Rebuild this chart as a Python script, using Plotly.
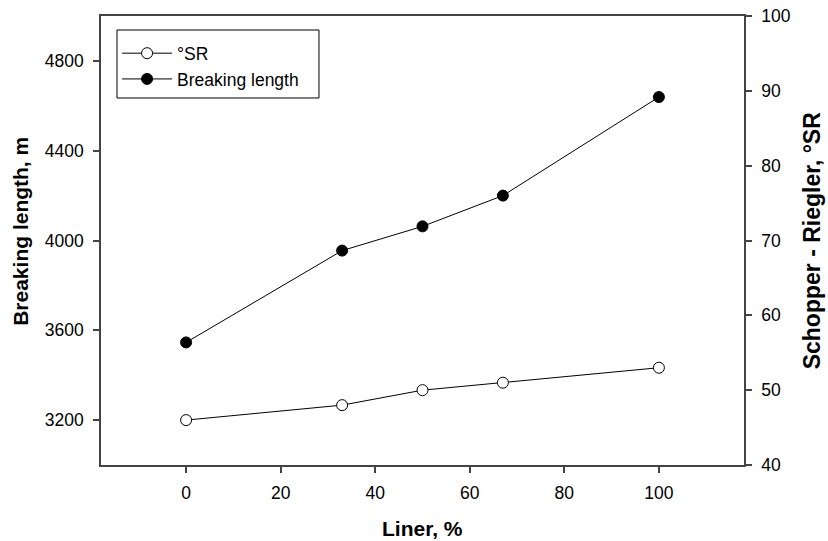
import plotly.graph_objects as go

liner = [0, 33, 50, 67, 100]
breaking_length = [3546, 3955, 4063, 4200, 4639]
sr = [46, 48, 50, 51, 53]

x_ticks = [0, 20, 40, 60, 80, 100]
y_ticks = [3200, 3600, 4000, 4400, 4800]
y2_ticks = [40, 50, 60, 70, 80, 90, 100]

FONT = "Liberation Sans, Arial, sans-serif"
AX = "#444444"
TICK = 17.5
TITLE = 21

fig = go.Figure()
fig.add_trace(go.Scatter(
    x=liner, y=sr, name="°SR", yaxis="y2", mode="lines+markers",
    line=dict(color="black", width=1),
    marker=dict(symbol="circle", size=11, color="white", line=dict(color="black", width=1)),
))
fig.add_trace(go.Scatter(
    x=liner, y=breaking_length, name="Breaking length", yaxis="y", mode="lines+markers",
    line=dict(color="black", width=1),
    marker=dict(symbol="circle", size=11, color="black", line=dict(color="black", width=1)),
))

axis_common = dict(ticks="outside", ticklen=6, tickcolor=AX, tickwidth=1.5,
                   showline=True, linecolor=AX, linewidth=1.5, automargin=False,
                   showgrid=False, zeroline=False, tickfont=dict(size=TICK))

fig.update_layout(
    width=828, height=541,
    margin=dict(l=101, r=84, t=16, b=76, autoexpand=False),
    paper_bgcolor="white", plot_bgcolor="white",
    font=dict(family=FONT, size=TICK, color="black"),
    showlegend=True,
    legend=dict(x=0.025, y=0.957, xanchor="left", yanchor="top",
                borderwidth=0, bgcolor="rgba(0,0,0,0)",
                font=dict(size=TICK), traceorder="normal", itemwidth=50),
    shapes=[dict(type="rect", xref="paper", yref="paper",
                 x0=0.0249, x1=0.339, y0=0.8174, y1=0.9688,
                 line=dict(color="black", width=1), fillcolor="white", layer="below")],
    xaxis=dict(range=[-18, 118], tickvals=x_ticks, mirror=True,
               ticklabelstandoff=5, **axis_common),
    yaxis=dict(range=[3000, 5000], tickvals=y_ticks,
               ticklabelstandoff=6, **axis_common),
    yaxis2=dict(range=[40, 100], tickvals=y2_ticks, overlaying="y", side="right",
                ticklabelstandoff=6, **axis_common),
    annotations=[
        dict(text="<b>Breaking length, m</b>", xref="paper", yref="paper",
             x=-0.1255, y=0.52, textangle=-90, showarrow=False,
             xanchor="center", yanchor="middle", font=dict(size=TITLE)),
        dict(text="<b>Schopper - Riegler, °SR</b>", xref="paper", yref="paper",
             x=1.1055, y=0.5, textangle=-90, showarrow=False,
             xanchor="center", yanchor="middle", font=dict(size=23)),
        dict(text="<b>Liner, %</b>", xref="paper", yref="paper",
             x=0.5, y=-0.1425, showarrow=False,
             xanchor="center", yanchor="middle", font=dict(size=TITLE)),
    ],
)

fig.write_html("out.html")
